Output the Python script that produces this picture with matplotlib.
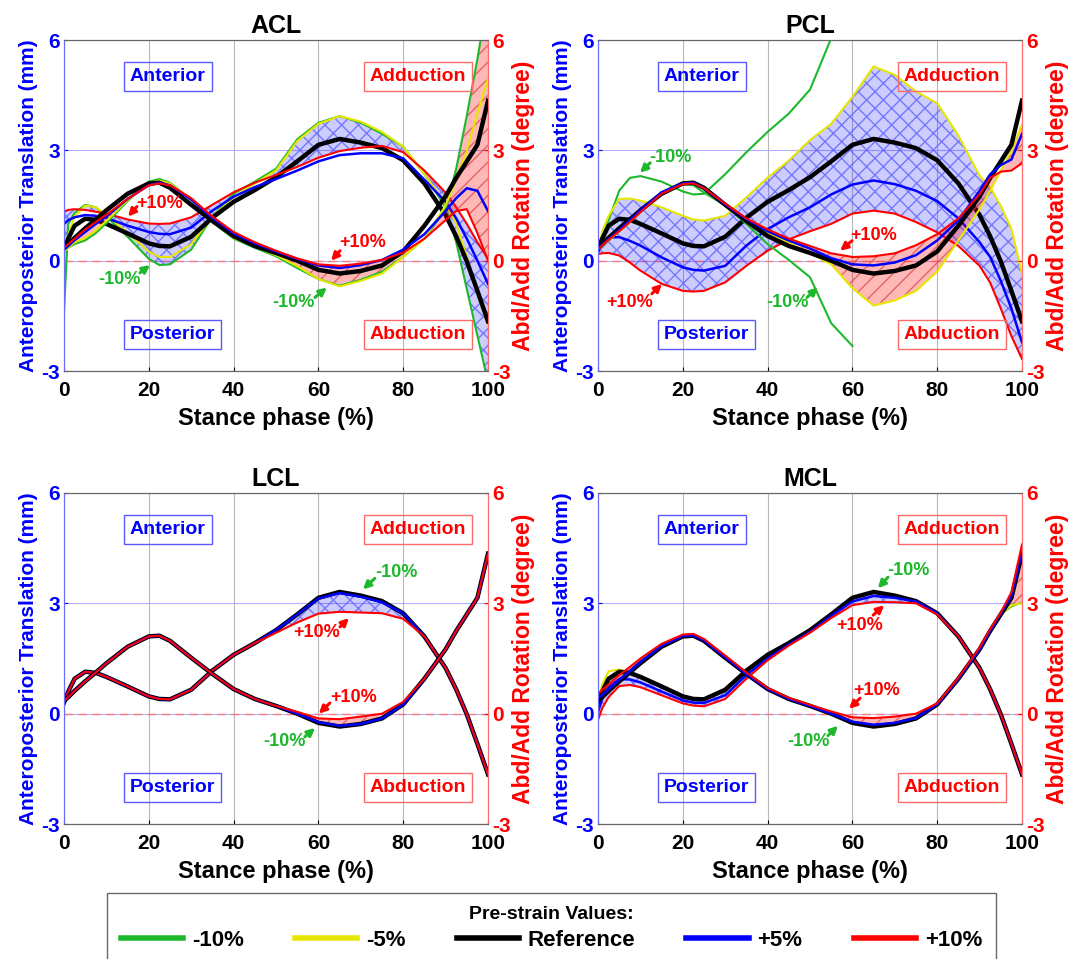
import numpy as np
import matplotlib
matplotlib.use("Agg")
import matplotlib.pyplot as plt
from matplotlib.lines import Line2D

plt.rcParams['font.family'] = ['Liberation Sans', 'DejaVu Sans']
plt.rcParams['font.weight'] = 'bold'
plt.rcParams['axes.labelweight'] = 'bold'
plt.rcParams['axes.titleweight'] = 'bold'
plt.rcParams['axes.unicode_minus'] = False
plt.rcParams['hatch.linewidth'] = 1.0

NA = np.nan

# stance phase (%) at which the curves were read
stance = [0, 1, 2.5, 5, 7.5, 10, 15, 20, 22.5, 25, 30, 35, 40, 45, 50,
          55, 60, 65, 70, 75, 80, 85, 90, 92.5, 95, 97.5, 100]

strain_labels = ['-10%', '-5%', 'Reference', '+5%', '+10%']
ligaments = ['ACL', 'PCL', 'LCL', 'MCL']

# reference model (same in every panel)
ref_trans = [0.30, 0.60, 0.95, 1.14, 1.11, 1.00, 0.74, 0.47, 0.40, 0.39, 0.65, 1.17, 1.60, 1.92, 2.27,
             2.70, 3.15, 3.31, 3.21, 3.06, 2.73, 2.10, 1.24, 0.66, -0.02, -0.82, -1.65]
ref_rot = [0.35, 0.45, 0.62, 0.88, 1.12, 1.37, 1.82, 2.10, 2.12, 1.98, 1.52, 1.08, 0.67, 0.40, 0.21,
           0.00, -0.25, -0.35, -0.28, -0.13, 0.25, 0.95, 1.75, 2.25, 2.70, 3.15, 4.35]

# ACL
acl_trans_m10 = [-1.40, 1.00, 1.30, 1.52, 1.45, 1.20, 0.65, 0.05, -0.12, -0.10, 0.30, 1.20, 1.82, 2.15, 2.50,
                 3.30, 3.75, 3.93, 3.75, 3.45, 3.10, 2.35, 1.45, 0.50, -0.77, -2.04, -3.30]
acl_trans_m5 = [0.10, 0.70, 1.20, 1.50, 1.45, 1.25, 0.75, 0.25, 0.10, 0.10, 0.45, 1.20, 1.72, 2.10, 2.45,
                3.25, 3.72, 3.93, 3.78, 3.50, 3.10, 2.35, 1.55, 1.00, 0.10, -0.90, -1.77]
acl_trans_p5 = [1.00, 1.10, 1.18, 1.24, 1.22, 1.16, 0.95, 0.78, 0.73, 0.72, 0.90, 1.36, 1.74, 2.00, 2.22,
                2.45, 2.70, 2.87, 2.92, 2.92, 2.78, 2.20, 1.60, 1.15, 0.60, 0.00, -0.63]
acl_trans_p10 = [1.33, 1.38, 1.40, 1.38, 1.33, 1.28, 1.12, 1.01, 1.00, 1.01, 1.18, 1.52, 1.86, 2.12, 2.33,
                 2.55, 2.80, 2.98, 3.07, 3.12, 2.95, 2.45, 1.85, 1.45, 1.00, 0.50, 0.05]
acl_rot_m10 = [0.25, 0.35, 0.45, 0.55, 0.75, 1.02, 1.62, 2.15, 2.22, 2.12, 1.66, 1.05, 0.60, 0.35, 0.12,
               -0.20, -0.50, -0.68, -0.52, -0.30, 0.10, 0.60, 1.40, 2.50, 3.94, 5.48, 7.20]
acl_rot_m5 = [0.25, 0.35, 0.50, 0.62, 0.82, 1.08, 1.65, 2.10, 2.18, 2.10, 1.66, 1.08, 0.62, 0.38, 0.15,
              -0.15, -0.50, -0.70, -0.55, -0.35, 0.10, 0.60, 1.50, 2.20, 3.00, 4.00, 4.95]
acl_rot_p5 = [0.30, 0.40, 0.56, 0.78, 1.00, 1.20, 1.68, 2.05, 2.12, 2.05, 1.66, 1.16, 0.74, 0.47, 0.25,
              0.05, -0.13, -0.20, -0.12, 0.02, 0.30, 0.72, 1.35, 1.70, 1.97, 1.90, 1.35]
acl_rot_p10 = [0.35, 0.45, 0.60, 0.85, 1.05, 1.25, 1.68, 2.05, 2.10, 2.05, 1.70, 1.20, 0.78, 0.50, 0.27,
               0.06, -0.10, -0.14, -0.08, 0.02, 0.22, 0.60, 1.10, 1.35, 1.40, 0.75, 0.00]

# PCL
pcl_trans_m10 = [0.30, 0.60, 1.10, 1.90, 2.25, 2.30, 2.15, 1.88, 1.80, 1.82, 2.35, 2.95, 3.50, 4.00, 4.65,
                 6.05, 7.50, NA, NA, NA, NA, NA, NA, NA, NA, NA, NA]
pcl_trans_m5 = [0.32, 0.80, 1.22, 1.68, 1.69, 1.63, 1.45, 1.22, 1.12, 1.09, 1.22, 1.72, 2.26, 2.72, 3.28,
                3.72, 4.45, 5.28, 5.05, 4.60, 4.28, 3.40, 2.31, 1.99, 1.49, 0.86, -0.35]
pcl_trans_p5 = [0.32, 0.50, 0.63, 0.64, 0.54, 0.41, 0.09, -0.18, -0.25, -0.27, -0.14, 0.41, 0.86, 1.18, 1.45,
                1.80, 2.07, 2.18, 2.08, 1.90, 1.62, 1.15, 0.50, 0.10, -0.55, -1.30, -2.22]
pcl_trans_p10 = [0.18, 0.20, 0.21, 0.14, -0.05, -0.27, -0.63, -0.82, -0.84, -0.82, -0.59, -0.14, 0.27, 0.58, 0.80,
                 1.00, 1.28, 1.36, 1.28, 1.05, 0.77, 0.40, -0.14, -0.60, -1.30, -2.05, -2.67]
pcl_rot_m10 = [0.30, 0.40, 0.55, 0.80, 1.05, 1.32, 1.82, 2.08, 2.05, 1.85, 1.50, 1.00, 0.45, 0.02, -0.45,
               -1.70, -2.32, NA, NA, NA, NA, NA, NA, NA, NA, NA, NA]
pcl_rot_m5 = [0.30, 0.40, 0.55, 0.80, 1.05, 1.32, 1.82, 2.08, 2.10, 1.95, 1.52, 1.10, 0.75, 0.48, 0.20,
              -0.10, -0.75, -1.22, -1.08, -0.82, -0.30, 0.55, 1.40, 1.90, 2.45, 3.00, 3.70]
pcl_rot_p5 = [0.30, 0.43, 0.58, 0.83, 1.10, 1.37, 1.86, 2.10, 2.12, 1.97, 1.53, 1.13, 0.80, 0.55, 0.33,
              0.07, -0.10, -0.13, -0.05, 0.15, 0.55, 1.10, 1.90, 2.35, 2.60, 2.75, 3.45]
pcl_rot_p10 = [0.30, 0.42, 0.57, 0.80, 1.05, 1.32, 1.82, 2.08, 2.10, 1.97, 1.55, 1.15, 0.85, 0.60, 0.40,
               0.20, 0.10, 0.12, 0.20, 0.42, 0.72, 1.15, 1.80, 2.25, 2.42, 2.45, 2.65]

# LCL
lcl_trans_m10 = [0.30, 0.60, 0.95, 1.14, 1.11, 1.00, 0.74, 0.47, 0.40, 0.39, 0.65, 1.17, 1.60, 1.92, 2.27,
                 2.70, 3.15, 3.32, 3.21, 3.06, 2.73, 2.10, 1.24, 0.66, -0.02, -0.82, -1.65]
lcl_trans_m5 = [0.30, 0.60, 0.95, 1.14, 1.11, 1.00, 0.74, 0.47, 0.40, 0.39, 0.65, 1.17, 1.60, 1.92, 2.27,
                2.70, 3.15, 3.31, 3.21, 3.06, 2.73, 2.10, 1.24, 0.66, -0.02, -0.82, -1.65]
lcl_trans_p5 = [0.30, 0.60, 0.95, 1.14, 1.11, 1.00, 0.74, 0.47, 0.40, 0.39, 0.65, 1.17, 1.60, 1.92, 2.27,
                2.70, 3.13, 3.28, 3.18, 3.03, 2.73, 2.10, 1.24, 0.66, -0.02, -0.82, -1.65]
lcl_trans_p10 = [0.30, 0.60, 0.95, 1.14, 1.11, 1.00, 0.74, 0.47, 0.40, 0.39, 0.65, 1.17, 1.60, 1.92, 2.20,
                 2.48, 2.72, 2.77, 2.75, 2.73, 2.58, 2.10, 1.24, 0.66, -0.02, -0.82, -1.65]
lcl_rot_m10 = [0.35, 0.45, 0.62, 0.88, 1.12, 1.37, 1.82, 2.10, 2.12, 1.98, 1.52, 1.08, 0.67, 0.40, 0.21,
               0.00, -0.25, -0.35, -0.28, -0.13, 0.25, 0.95, 1.75, 2.25, 2.70, 3.15, 4.35]
lcl_rot_m5 = [0.35, 0.45, 0.62, 0.88, 1.12, 1.37, 1.82, 2.10, 2.12, 1.98, 1.52, 1.08, 0.67, 0.40, 0.21,
              0.00, -0.25, -0.35, -0.28, -0.13, 0.25, 0.95, 1.75, 2.25, 2.70, 3.15, 4.35]
lcl_rot_p5 = [0.35, 0.45, 0.62, 0.88, 1.12, 1.37, 1.82, 2.10, 2.12, 1.98, 1.52, 1.08, 0.67, 0.40, 0.21,
              0.00, -0.23, -0.33, -0.28, -0.13, 0.25, 0.95, 1.75, 2.25, 2.70, 3.15, 4.35]
lcl_rot_p10 = [0.35, 0.45, 0.62, 0.88, 1.12, 1.37, 1.82, 2.10, 2.12, 1.98, 1.52, 1.08, 0.67, 0.40, 0.21,
               0.05, -0.13, -0.15, -0.08, 0.00, 0.32, 0.95, 1.75, 2.25, 2.70, 3.15, 4.35]

# MCL
mcl_trans_m10 = [0.30, 0.60, 0.95, 1.14, 1.11, 1.00, 0.74, 0.47, 0.40, 0.39, 0.65, 1.17, 1.60, 1.92, 2.27,
                 2.70, 3.15, 3.31, 3.21, 3.06, 2.73, 2.10, 1.24, 0.66, -0.02, -0.82, -1.65]
mcl_trans_m5 = [0.30, 0.80, 1.15, 1.20, 1.13, 1.00, 0.74, 0.47, 0.40, 0.39, 0.65, 1.17, 1.60, 1.92, 2.27,
                2.70, 3.15, 3.31, 3.21, 3.06, 2.73, 2.10, 1.24, 0.66, -0.02, -0.82, -1.65]
mcl_trans_p5 = [0.05, 0.40, 0.72, 0.94, 0.93, 0.85, 0.60, 0.36, 0.30, 0.29, 0.50, 1.05, 1.50, 1.88, 2.22,
                2.66, 3.05, 3.20, 3.15, 3.05, 2.73, 2.10, 1.24, 0.66, -0.02, -0.82, -1.65]
mcl_trans_p10 = [-0.17, 0.15, 0.45, 0.75, 0.78, 0.72, 0.50, 0.28, 0.22, 0.20, 0.40, 0.95, 1.45, 1.85, 2.20,
                 2.60, 2.95, 3.04, 3.03, 3.00, 2.70, 2.10, 1.24, 0.66, -0.02, -0.82, -1.65]
mcl_rot_m10 = [0.35, 0.45, 0.62, 0.88, 1.12, 1.37, 1.82, 2.10, 2.12, 1.98, 1.52, 1.08, 0.67, 0.40, 0.21,
               0.00, -0.25, -0.35, -0.28, -0.13, 0.25, 0.95, 1.75, 2.25, 2.70, 2.92, 3.02]
mcl_rot_m5 = [0.35, 0.45, 0.62, 0.88, 1.12, 1.37, 1.82, 2.10, 2.12, 1.98, 1.52, 1.08, 0.67, 0.40, 0.21,
              0.00, -0.25, -0.35, -0.28, -0.13, 0.25, 0.95, 1.75, 2.25, 2.70, 2.95, 3.00]
mcl_rot_p5 = [0.42, 0.50, 0.66, 0.92, 1.15, 1.40, 1.84, 2.11, 2.13, 1.99, 1.53, 1.08, 0.67, 0.40, 0.21,
              0.00, -0.22, -0.30, -0.25, -0.12, 0.25, 0.95, 1.75, 2.25, 2.72, 3.20, 4.40]
mcl_rot_p10 = [0.55, 0.65, 0.80, 1.05, 1.27, 1.50, 1.90, 2.15, 2.17, 2.03, 1.58, 1.12, 0.70, 0.43, 0.24,
               0.06, -0.10, -0.12, -0.08, 0.00, 0.28, 0.98, 1.80, 2.30, 2.75, 3.30, 4.60]

trans = {
    'ACL': [acl_trans_m10, acl_trans_m5, ref_trans, acl_trans_p5, acl_trans_p10],
    'PCL': [pcl_trans_m10, pcl_trans_m5, ref_trans, pcl_trans_p5, pcl_trans_p10],
    'LCL': [lcl_trans_m10, lcl_trans_m5, ref_trans, lcl_trans_p5, lcl_trans_p10],
    'MCL': [mcl_trans_m10, mcl_trans_m5, ref_trans, mcl_trans_p5, mcl_trans_p10],
}
rot = {
    'ACL': [acl_rot_m10, acl_rot_m5, ref_rot, acl_rot_p5, acl_rot_p10],
    'PCL': [pcl_rot_m10, pcl_rot_m5, ref_rot, pcl_rot_p5, pcl_rot_p10],
    'LCL': [lcl_rot_m10, lcl_rot_m5, ref_rot, lcl_rot_p5, lcl_rot_p10],
    'MCL': [mcl_rot_m10, mcl_rot_m5, ref_rot, mcl_rot_p5, mcl_rot_p10],
}
# which pre-strain curves bound the shaded band (PCL -10% run stops early)
band = {'ACL': (0, 4), 'PCL': (1, 4), 'LCL': (0, 4), 'MCL': (0, 4)}

# (text, colour, text position, arrow tail, arrow tip)
GREEN = '#1db82b'
notes = {
    'ACL': [('+10%', 'red', (22.6, 1.55), (17.2, 1.47), (15.1, 1.2)),
            ('-10%', GREEN, (13.0, -0.5), (17.9, -0.33), (20.3, -0.12)),
            ('+10%', 'red', (70.5, 0.5), (65.1, 0.27), (63.0, 0.0)),
            ('-10%', GREEN, (54.2, -1.14), (59.2, -1.0), (62.0, -0.73))],
    'PCL': [('-10%', GREEN, (17.2, 2.8), (12.3, 2.66), (9.9, 2.39)),
            ('+10%', 'red', (7.5, -1.14), (12.7, -0.9), (15.1, -0.63)),
            ('+10%', 'red', (65.1, 0.68), (59.9, 0.54), (57.1, 0.27)),
            ('-10%', GREEN, (44.6, -1.14), (49.3, -1.0), (51.9, -0.73))],
    'LCL': [('-10%', GREEN, (78.3, 3.85), (73.3, 3.68), (70.5, 3.38)),
            ('+10%', 'red', (59.5, 2.22), (65.1, 2.36), (67.2, 2.6)),
            ('+10%', 'red', (68.2, 0.45), (62.7, 0.29), (60.1, 0.0)),
            ('-10%', GREEN, (52.1, -0.77), (56.8, -0.63), (59.2, -0.39))],
    'MCL': [('-10%', GREEN, (73.3, 3.9), (68.4, 3.71), (66.0, 3.41)),
            ('+10%', 'red', (61.6, 2.41), (64.9, 2.68), (67.5, 2.95)),
            ('+10%', 'red', (65.6, 0.64), (61.8, 0.42), (59.2, 0.13)),
            ('-10%', GREEN, (49.6, -0.75), (54.2, -0.6), (56.6, -0.33))],
}

colors = [GREEN, '#e6e600', 'black', '#0000ff', '#ff0000']
widths = [1.5, 1.5, 3.2, 1.8, 1.5]

fig = plt.figure(figsize=(10.86, 9.59), dpi=100)
FW, FH = 1086.0, 959.0
corner = {'ACL': (64, 40), 'PCL': (598, 40), 'LCL': (64, 493), 'MCL': (598, 493)}
AW, AH = 424, 331

for name in ligaments:
    l, t = corner[name]
    ax = fig.add_axes([l / FW, 1 - (t + AH) / FH, AW / FW, AH / FH])
    ax.set_xlim(0, 100)
    ax.set_ylim(-3, 6)
    ax.set_xticks(range(0, 101, 20))
    ax.set_yticks([-3, 0, 3, 6])
    ax.xaxis.grid(True, color='#b8b8b8', lw=0.8)
    ax.yaxis.grid(True, color='#b0b0ff', lw=0.8)
    ax.set_axisbelow(True)
    ax.axhline(0, color='#ff7a7a', lw=1.0, ls=(0, (6, 4)), zorder=0.6)

    tr = trans[name]
    lo, hi = band[name]
    ax.fill_between(stance, tr[lo], tr[hi], facecolor=(0, 0, 1, 0.2),
                    edgecolor=(0.35, 0.35, 1, 0.75), hatch='xx', lw=0, zorder=1)
    for vals, c, w in zip(tr, colors, widths):
        ax.plot(stance, vals, color=c, lw=w, zorder=2)

    ax2 = ax.twinx()
    ax2.set_ylim(-3, 6)
    ax2.set_yticks([-3, 0, 3, 6])
    ro = rot[name]
    ax2.fill_between(stance, ro[lo], ro[hi], facecolor=(1, 0, 0, 0.28),
                     edgecolor=(0.85, 0.25, 0.25, 0.7), hatch='//', lw=0, zorder=1)
    for vals, c, w in zip(ro, colors, widths):
        ax2.plot(stance, vals, color=c, lw=w, zorder=2)

    # axes styling
    for a in (ax, ax2):
        a.spines['left'].set_color('#6a6aff')
        a.spines['right'].set_color('#ff6a6a')
        a.spines['top'].set_color('#666666')
        a.spines['bottom'].set_color('#666666')
    ax.tick_params(axis='y', colors='blue', labelsize=15, length=3, direction='in', pad=3)
    ax.tick_params(axis='x', colors='black', labelsize=15, length=3, direction='in', pad=7)
    ax2.tick_params(axis='y', colors='red', labelsize=15, length=3, direction='in', pad=3)
    ax.set_title(name, fontsize=18, pad=5)
    ax.set_xlabel('Stance phase (%)', fontsize=17, labelpad=5)
    ax.set_ylabel('Anteroposterior Translation (mm)', color='blue', fontsize=15, labelpad=2)
    ax2.set_ylabel('Abd/Add Rotation (degree)', color='red', fontsize=16.5, labelpad=1)

    # direction boxes
    for txt, c, ec, xy in [('Anterior', 'blue', '#5a5aff', (24.5, 5.0)),
                           ('Posterior', 'blue', '#5a5aff', (25.5, -2.0)),
                           ('Adduction', 'red', '#ff6a6a', (83.5, 5.0)),
                           ('Abduction', 'red', '#ff6a6a', (83.5, -2.0))]:
        ax2.text(xy[0], xy[1], txt, color=c, fontsize=14, ha='center', va='center', zorder=5,
                 bbox=dict(boxstyle='square,pad=0.3', fc='none', ec=ec, lw=1))

    for txt, c, txy, tail, tip in notes[name]:
        ax2.text(txy[0], txy[1], txt, color=c, fontsize=13, ha='center', va='center', zorder=6)
        ax2.annotate('', xy=tip, xytext=tail, zorder=6,
                     arrowprops=dict(arrowstyle='-|>', color=c, lw=2.2, mutation_scale=11,
                                     shrinkA=0, shrinkB=0))

handles = [Line2D([], [], color=c, lw=4) for c in colors]
fig.legend(handles, strain_labels, loc='upper center', bbox_to_anchor=(551.5 / FW, 1 - 893 / FH),
           ncol=5, title='Pre-strain Values:', frameon=True, fancybox=False, edgecolor='#444444',
           prop={'weight': 'bold', 'size': 16},
           title_fontproperties={'weight': 'bold', 'size': 14},
           handlelength=2.8, handletextpad=0.4, columnspacing=2.3, borderpad=0.6,
           labelspacing=0.3, borderaxespad=0)

fig.savefig('out.png', dpi=100)
